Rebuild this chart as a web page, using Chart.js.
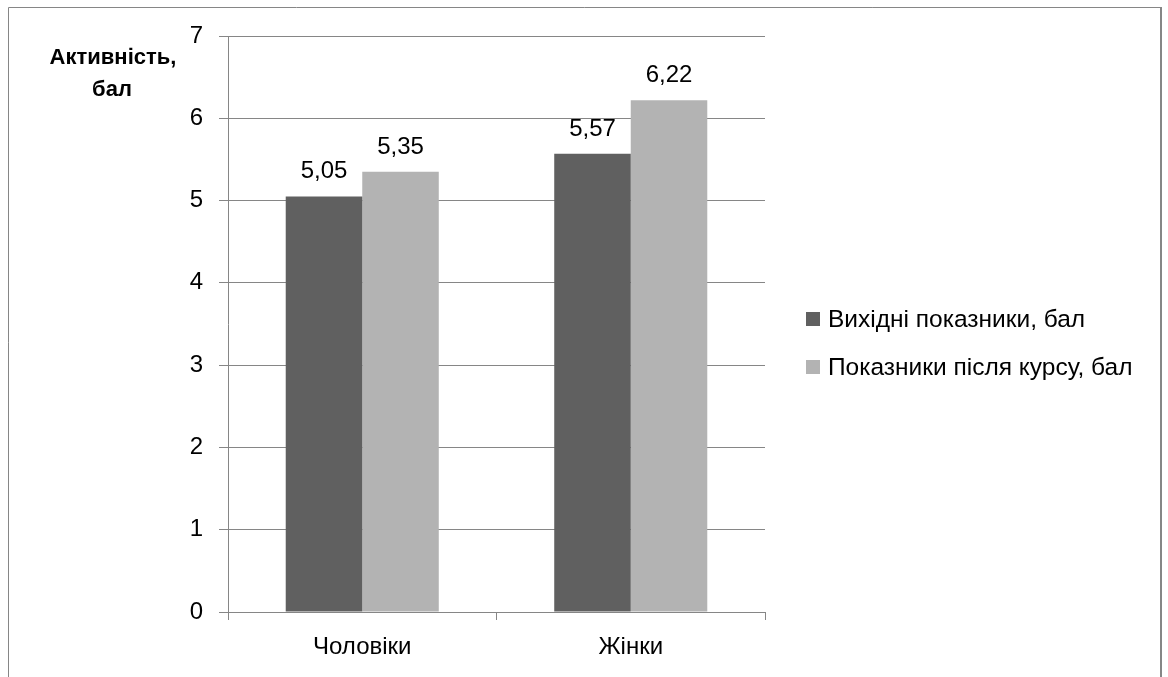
<!DOCTYPE html>
<html>
<head>
<meta charset="utf-8">
<script src="https://cdn.jsdelivr.net/npm/chart.js@4.4.1/dist/chart.umd.min.js"></script>
<style>
  html, body { margin: 0; padding: 0; background: #fff; }
  canvas { display: block; }
</style>
</head>
<body>
<canvas id="chart" width="1168" height="677"></canvas>
<script>
// Activity scores, points (before / after the course)
const categories = ['Чоловіки', 'Жінки'];
const seriesNames = ['Вихідні показники, бал', 'Показники після курсу, бал'];
const initialScores = [5.05, 5.57];
const afterCourseScores = [5.35, 6.22];
const yMin = 0;
const yMax = 7;
const yStep = 1;
const yTitleLines = ['Активність,', 'бал'];

const FONT = '"Liberation Sans", Arial, sans-serif';
const LINE = '#868686';
const COLORS = ['#606060', '#b3b3b3'];

const fmt = v => v.toFixed(2).replace('.', ',');

// frame around the chart (left, top, right edges)
const framePlugin = {
  id: 'frame',
  beforeDraw(chart) {
    const c = chart.ctx;
    c.save();
    c.fillStyle = '#fff';
    c.fillRect(0, 0, chart.width, chart.height);
    c.strokeStyle = LINE;
    c.lineWidth = 1;
    c.beginPath();
    c.moveTo(8.5, chart.height);
    c.lineTo(8.5, 7.5);
    c.lineTo(1160, 7.5);
    c.stroke();
    c.lineWidth = 2;
    c.beginPath();
    c.moveTo(1161, 7);
    c.lineTo(1161, chart.height);
    c.stroke();
    c.restore();
  }
};

// values above bars, horizontal axis title, legend on the right
const extrasPlugin = {
  id: 'extras',
  afterDatasetsDraw(chart) {
    const c = chart.ctx;
    c.save();
    c.fillStyle = '#000';
    c.font = '24px ' + FONT;
    c.textAlign = 'center';
    c.textBaseline = 'alphabetic';
    chart.data.datasets.forEach((ds, i) => {
      chart.getDatasetMeta(i).data.forEach((bar, j) => {
        c.fillText(fmt(ds.data[j]), bar.x, bar.y - 18);
      });
    });

    // y axis title, drawn flat to the left of the axis
    c.font = 'bold 22px ' + FONT;
    c.fillText(yTitleLines[0], 113, 64);
    c.fillText(yTitleLines[1], 112, 96);

    // legend
    c.textAlign = 'left';
    c.font = '24.5px ' + FONT;
    chart.data.datasets.forEach((ds, i) => {
      const base = 327 + i * 48;
      c.fillStyle = ds.backgroundColor;
      c.fillRect(806, base - 15, 14, 14);
      c.fillStyle = '#000';
      c.fillText(ds.label, 828, base);
    });
    c.restore();
  }
};

new Chart(document.getElementById('chart'), {
  type: 'bar',
  data: {
    labels: categories,
    datasets: [
      { label: seriesNames[0], data: initialScores, backgroundColor: COLORS[0] },
      { label: seriesNames[1], data: afterCourseScores, backgroundColor: COLORS[1] }
    ]
  },
  options: {
    responsive: false,
    animation: false,
    devicePixelRatio: 1,
    layout: { padding: { left: 0, top: 36, right: 403, bottom: 0 } },
    datasets: { bar: { barPercentage: 1, categoryPercentage: 0.57 } },
    plugins: { legend: { display: false }, tooltip: { enabled: false } },
    scales: {
      x: {
        afterFit: s => { s.height = 65; },
        grid: { drawOnChartArea: false, color: LINE, tickLength: 8, offset: true },
        border: { color: LINE },
        ticks: { color: '#000', font: { family: FONT, size: 24 }, padding: 13 }
      },
      y: {
        min: yMin,
        max: yMax,
        afterFit: s => { s.width = 228; },
        grid: { color: LINE, tickLength: 9 },
        border: { color: LINE },
        ticks: { stepSize: yStep, color: '#000', font: { family: FONT, size: 24 }, padding: 16 }
      }
    }
  },
  plugins: [framePlugin, extrasPlugin]
});
</script>
</body>
</html>
